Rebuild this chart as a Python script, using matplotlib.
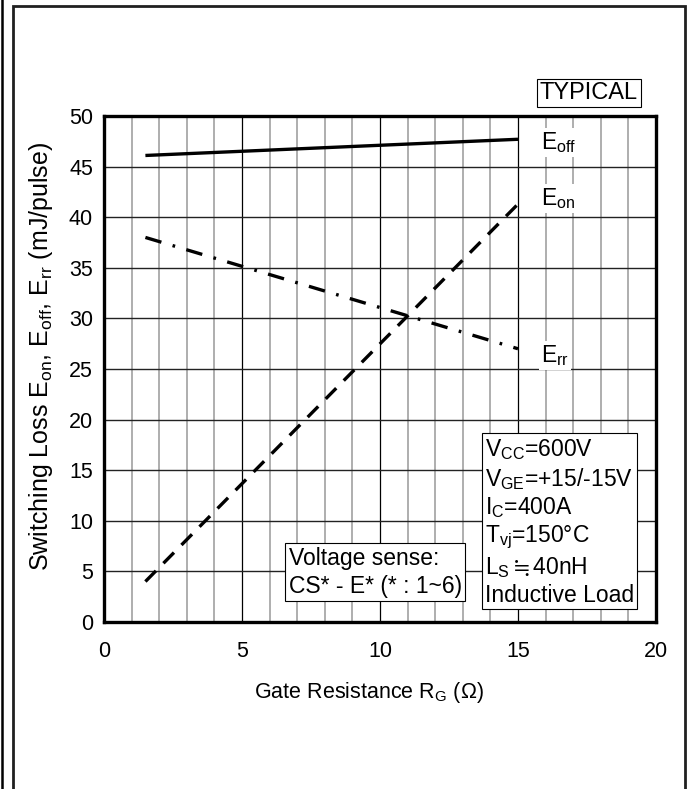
import numpy as np
import matplotlib
matplotlib.use("Agg")
import matplotlib.pyplot as plt
from matplotlib.patches import Rectangle
from matplotlib.lines import Line2D

plt.rcParams["font.family"] = ["Liberation Sans", "DejaVu Sans"]
plt.rcParams["mathtext.fontset"] = "custom"
plt.rcParams["mathtext.rm"] = "Liberation Sans"
plt.rcParams["mathtext.it"] = "Liberation Sans"
plt.rcParams["mathtext.default"] = "regular"
plt.rcParams["mathtext.fallback"] = "stixsans"

# ── Data ──────────────────────────────────────────────────────────
rg = [1.5, 15.0]
e_off = [46.1, 47.7]
e_on = [4.0, 41.3]
e_rr = [38.0, 27.0]

x_ticks = [0, 5, 10, 15, 20]
y_ticks = [0, 5, 10, 15, 20, 25, 30, 35, 40, 45, 50]

conditions = [
    r"$V_{CC}$=600V",
    r"$V_{GE}$=+15/-15V",
    r"$I_C$=400A",
    r"$T_{vj}$=150°C",
    r"$L_S\fallingdotseq$40nH",
    "Inductive Load",
]

W, H = 690, 789
fig = plt.figure(figsize=(W / 100, H / 100), dpi=100)
ax = fig.add_axes([104 / W, 1 - 622 / H, 552 / W, 506 / H])

# grid: gray minor verticals, black major lines
for x in range(1, 20):
    if x % 5:
        ax.axvline(x, color="#a8a8a8", lw=1.3, zorder=0)
    else:
        ax.axvline(x, color="black", lw=0.9, zorder=0)
for y in y_ticks[1:-1]:
    ax.axhline(y, color="#222222", lw=1.0, zorder=0)

ax.plot(rg, e_off, color="black", lw=2.4, solid_capstyle="butt")
ax.plot(rg, e_on, color="black", lw=2.4, dashes=(4.5, 3.2))
ax.plot(rg, e_rr, color="black", lw=2.4, dashes=(5, 3.5, 0.8, 3.5))

ax.set_xlim(0, 20)
ax.set_ylim(0, 50)
ax.set_xticks(x_ticks)
ax.set_yticks(y_ticks)
ax.tick_params(length=0, labelsize=15.5)
ax.tick_params(axis="y", pad=8)
ax.tick_params(axis="x", pad=14)
for s in ax.spines.values():
    s.set_linewidth(2.4)

ax.set_xlabel(r"Gate Resistance $R_G$ ($\Omega$)", fontsize=15.5)
ax.xaxis.set_label_coords(0.48, -0.115)
ax.set_ylabel(r"Switching Loss $E_{on}$, $E_{off}$, $E_{rr}$ (mJ/pulse)",
              fontsize=18)
ax.yaxis.set_label_coords(-0.088, 0.525)

lbl = dict(fontsize=16.5, ha="left", va="center",
           bbox=dict(facecolor="white", edgecolor="none", pad=1.5))
ax.text(15.85, 47.4, r"$E_{off}$", **lbl)
ax.text(15.85, 41.8, r"$E_{on}$", **lbl)
ax.text(15.85, 26.3, r"$E_{rr}$", **lbl)

# conditions box
ax.text(13.8, 18.3, "\n".join(conditions), fontsize=16.5, ha="left",
        va="top", linespacing=1.2,
        bbox=dict(facecolor="white", edgecolor="black", lw=0.8,
                  boxstyle="square,pad=0.12"))
ax.text(6.7, 7.45, "Voltage sense:\nCS* - E* (* : 1~6)", fontsize=16.5,
        ha="left", va="top", linespacing=1.3,
        bbox=dict(facecolor="white", edgecolor="black", lw=0.8,
                  boxstyle="square,pad=0.15"))

fig.text(589 / W, 1 - 93 / H, "TYPICAL", fontsize=17, ha="center",
         va="center",
         bbox=dict(facecolor="white", edgecolor="black", lw=0.8,
                   boxstyle="square,pad=0.12"))

# page frame
fig.add_artist(Line2D([2 / W, 2 / W], [0, 1], color="black", lw=1.8,
                      transform=fig.transFigure))
fig.add_artist(Rectangle((13 / W, -0.05), 672 / W, 1.05 - 6 / H,
                         fill=False, edgecolor="#202020", lw=2.0,
                         transform=fig.transFigure))

fig.savefig("out.png", dpi=100)
